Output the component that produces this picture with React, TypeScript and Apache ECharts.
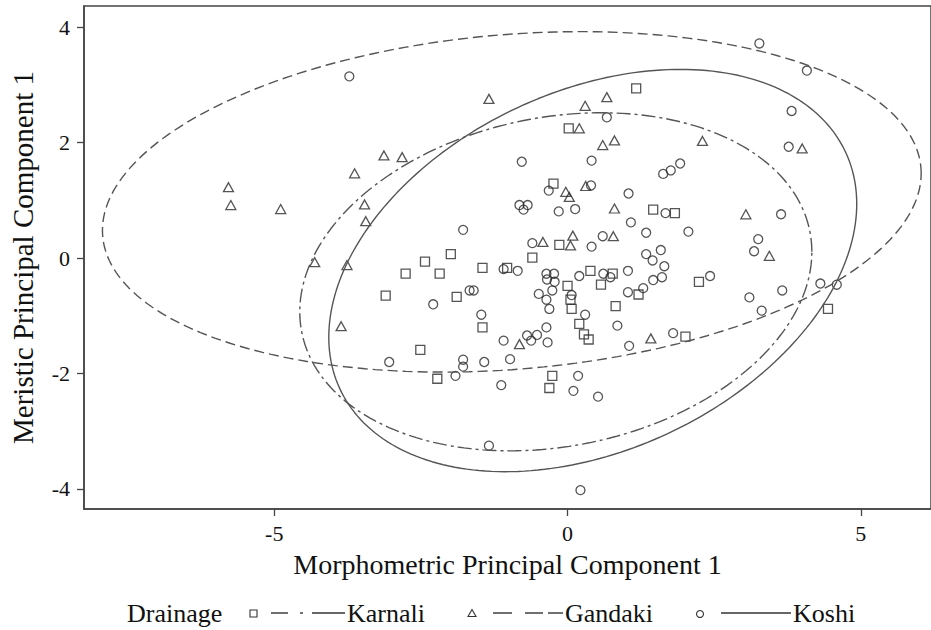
import React, { useEffect, useRef } from "react";
import * as echarts from "echarts";

// Karnali (squares)
const karnali: [number, number][] = [
  [1.17, 2.94], [0.02, 2.25], [-0.24, 1.29], [1.46, 0.84], [1.83, 0.78],
  [1.21, -0.63], [2.24, -0.41], [4.44, -0.88], [2.01, -1.36], [-0.14, 0.23],
  [-1.99, 0.07], [-2.43, -0.06], [-2.76, -0.27], [-2.18, -0.27], [-3.1, -0.65],
  [-1.89, -0.67], [-1.45, -0.17], [-1.03, -0.17], [-0.6, 0.01], [0.0, -0.48],
  [0.05, -0.72], [0.07, -0.88], [0.39, -0.22], [0.77, -0.27], [0.57, -0.46],
  [0.82, -0.83], [0.2, -1.14], [0.28, -1.32], [0.36, -1.41], [-1.45, -1.2],
  [-2.51, -1.59], [-2.22, -2.09], [-0.26, -2.04], [-0.31, -2.25],
];

// Gandaki (triangles)
const gandaki: [number, number][] = [
  [-3.63, 1.47], [-5.78, 1.23], [-5.74, 0.92], [-4.89, 0.85], [-1.34, 2.76],
  [0.3, 2.64], [0.67, 2.79], [0.2, 2.25], [0.6, 1.96], [0.8, 2.04],
  [-3.13, 1.78], [-2.82, 1.75], [-3.46, 0.93], [-3.44, 0.64], [-0.03, 1.15],
  [0.03, 1.06], [0.31, 1.25], [0.8, 0.86], [4.0, 1.9], [2.3, 2.03],
  [3.04, 0.76], [3.44, 0.04], [1.42, -1.39], [-0.42, 0.28], [0.09, 0.39],
  [0.05, 0.22], [0.78, 0.38], [-0.82, -1.49], [-3.76, -0.12], [-3.86, -1.18],
  [-4.31, -0.07],
];

// Koshi (circles)
const koshi: [number, number][] = [
  [-3.72, 3.15], [0.67, 2.44], [-0.78, 1.67], [0.41, 1.69], [-0.32, 1.17],
  [0.4, 1.26], [1.04, 1.12], [-0.82, 0.92], [-0.68, 0.92], [-0.75, 0.84],
  [-0.15, 0.81], [0.13, 0.85], [1.08, 0.62], [3.27, 3.72], [4.08, 3.25],
  [3.82, 2.55], [3.77, 1.93], [1.63, 1.46], [1.76, 1.52], [1.92, 1.64],
  [1.67, 0.78], [3.64, 0.76], [1.34, 0.44], [2.06, 0.46], [3.25, 0.33],
  [3.18, 0.12], [1.34, 0.07], [1.45, -0.04], [1.59, 0.14], [1.65, -0.14],
  [1.46, -0.38], [1.61, -0.33], [1.29, -0.52], [1.03, -0.22], [1.03, -0.59],
  [2.43, -0.31], [3.1, -0.68], [3.66, -0.56], [3.31, -0.91], [4.31, -0.44],
  [4.59, -0.46], [1.05, -1.52], [1.8, -1.3], [-1.78, 0.49], [-0.6, 0.26],
  [0.6, 0.38], [0.41, 0.2], [-2.29, -0.8], [-1.67, -0.56], [-1.6, -0.56],
  [-1.09, -0.19], [-0.85, -0.22], [-0.36, -0.27], [-0.23, -0.27], [-0.35, -0.37],
  [-0.22, -0.41], [-0.26, -0.56], [-0.49, -0.62], [-0.36, -0.72], [-0.31, -0.88],
  [0.07, -0.64], [0.2, -0.31], [0.61, -0.27], [0.73, -0.33], [0.3, -0.98],
  [0.85, -1.17], [-1.47, -0.98], [-0.36, -1.2], [-0.52, -1.33], [-0.69, -1.34],
  [-0.62, -1.43], [-0.34, -1.46], [-1.09, -1.43], [-0.98, -1.75], [-3.04, -1.8],
  [-1.78, -1.76], [-1.78, -1.88], [-1.42, -1.8], [-1.91, -2.04], [-1.13, -2.2],
  [0.18, -2.04], [0.1, -2.3], [0.52, -2.4], [-1.34, -3.25], [0.22, -4.02],
];

// Ellipse parameters: centre and [sxx, sxy, syy]
const karnaliCenter = [-0.2, -0.41];
const karnaliCov = [19.05, 2.27, 8.58];
const gandakiCenter = [-0.95, 0.975];
const gandakiCov = [48.7, 3.45, 8.7];
const koshiCenter = [0.43, -0.215];
const koshiCov = [20.25, 5.2, 12.15];

const xTicks = [-5, 0, 5];
const yTicks = [-4, -2, 0, 2, 4];
const groupNames = ["Karnali", "Gandaki", "Koshi"];

const FONT = "'Liberation Serif', 'Times New Roman', serif";

function ellipse(center: number[], cov: number[], n = 240): number[][] {
  const [cx, cy] = center;
  const [sxx, sxy, syy] = cov;
  const l11 = Math.sqrt(sxx);
  const l21 = sxy / l11;
  const l22 = Math.sqrt(syy - l21 * l21);
  const pts: number[][] = [];
  for (let i = 0; i <= n; i++) {
    const t = (2 * Math.PI * i) / n;
    pts.push([cx + l11 * Math.cos(t), cy + l21 * Math.cos(t) + l22 * Math.sin(t)]);
  }
  return pts;
}

export default function App() {
  const ref = useRef<HTMLDivElement>(null);
  useEffect(() => {
    if (!ref.current) return;
    const chart = echarts.init(ref.current, null, { renderer: "svg" });
    const ink = "#111";
    const lineCol = "#555";
    const markerStyle = { color: "rgba(0,0,0,0)", borderColor: "#2a2a2a", borderWidth: 1.3 };
    const legY = 613;
    const legLine = { stroke: "#333", lineWidth: 1.4 };
    const txt = (x: number, y: number, t: string, size: number, align: string, valign: string) => ({
      type: "text", x, y,
      style: { text: t, font: `${size}px ${FONT}`, fill: ink, align, verticalAlign: valign, textAlign: align, textVerticalAlign: valign },
    });
    const seg = (x1: number, x2: number) => ({ type: "line", shape: { x1, y1: legY, x2, y2: legY }, style: legLine });
    const legend = [
      txt(127, legY, "Drainage", 26, "left", "middle"),
      { type: "rect", shape: { x: 250, y: legY - 3, width: 7, height: 7 }, style: { fill: "none", stroke: "#333", lineWidth: 1.1 } },
      seg(271, 288), seg(300, 303), seg(312, 345),
      txt(347, legY, groupNames[0], 26, "left", "middle"),
      { type: "polygon", shape: { points: [[472, legY - 3.5], [468, legY + 3.5], [476, legY + 3.5]] }, style: { fill: "none", stroke: "#333", lineWidth: 1.1 } },
      seg(493, 512), seg(525, 543), seg(548, 563),
      txt(565, legY, groupNames[1], 26, "left", "middle"),
      { type: "circle", shape: { cx: 700, cy: legY + 1, r: 3.5 }, style: { fill: "none", stroke: "#333", lineWidth: 1.1 } },
      seg(721, 791),
      txt(793, legY, groupNames[2], 26, "left", "middle"),
    ];
    chart.setOption({
      animation: false,
      textStyle: { fontFamily: "Liberation Serif" },
      grid: { left: 83, top: 6, right: -1, bottom: 121, show: true, borderColor: "#444", borderWidth: 1.5 },
      xAxis: {
        type: "value", min: -8.243, max: 6.196,
        name: "Morphometric Principal Component 1", nameLocation: "middle", nameGap: 41,
        nameTextStyle: { fontFamily: FONT, fontSize: 28, color: ink },
        axisLine: { show: true, onZero: false, lineStyle: { color: "#444", width: 1.5 } },
        axisTick: { show: true, customValues: xTicks, length: 7, lineStyle: { color: "#444", width: 1.3 } },
        axisLabel: { show: false },
        splitLine: { show: false },
      },
      yAxis: {
        type: "value", min: -4.347, max: 4.369,
        name: "Meristic Principal Component 1", nameLocation: "middle", nameGap: 47, nameRotate: 90,
        nameTextStyle: { fontFamily: FONT, fontSize: 29, color: ink },
        axisLine: { show: true, onZero: false, lineStyle: { color: "#444", width: 1.5 } },
        axisTick: { show: true, customValues: yTicks, length: 7, lineStyle: { color: "#444", width: 1.3 } },
        axisLabel: { show: false },
        splitLine: { show: false },
      },
      series: [
        { type: "line", name: groupNames[0] + " ellipse", data: ellipse(karnaliCenter, karnaliCov), showSymbol: false, symbol: "none", silent: true,
          lineStyle: { color: lineCol, width: 1.4, type: [14, 4, 3, 4] } },
        { type: "line", name: groupNames[1] + " ellipse", data: ellipse(gandakiCenter, gandakiCov), showSymbol: false, symbol: "none", silent: true,
          lineStyle: { color: lineCol, width: 1.4, type: [10, 5] } },
        { type: "line", name: groupNames[2] + " ellipse", data: ellipse(koshiCenter, koshiCov), showSymbol: false, symbol: "none", silent: true,
          lineStyle: { color: lineCol, width: 1.4, type: "solid" } },
        { type: "scatter", name: groupNames[0], data: karnali, symbol: "rect", symbolSize: 9, itemStyle: markerStyle },
        { type: "scatter", name: groupNames[1], data: gandaki, symbol: "triangle", symbolSize: [10, 9], itemStyle: markerStyle },
        { type: "scatter", name: groupNames[2], data: koshi, symbol: "circle", symbolSize: 9, itemStyle: markerStyle },
      ],
      graphic: legend,
    });
    // Tick labels placed through the axes' own scales
    const tickTexts: any[] = [];
    const bottomY = chart.convertToPixel({ yAxisIndex: 0 }, -4.347) as number;
    const leftX = chart.convertToPixel({ xAxisIndex: 0 }, -8.243) as number;
    xTicks.forEach((v) => {
      const px = chart.convertToPixel({ xAxisIndex: 0 }, v) as number;
      tickTexts.push(txt(px, bottomY + 13, String(v), 22, "center", "top"));
    });
    yTicks.forEach((v) => {
      const py = chart.convertToPixel({ yAxisIndex: 0 }, v) as number;
      tickTexts.push(txt(leftX - 14, py, String(v), 22, "right", "middle"));
    });
    chart.setOption({ graphic: [...legend, ...tickTexts] });
    return () => chart.dispose();
  }, []);
  return <div ref={ref} style={{ position: "fixed", left: 0, top: 0, width: 931, height: 630, background: "#fff" }} />;
}
